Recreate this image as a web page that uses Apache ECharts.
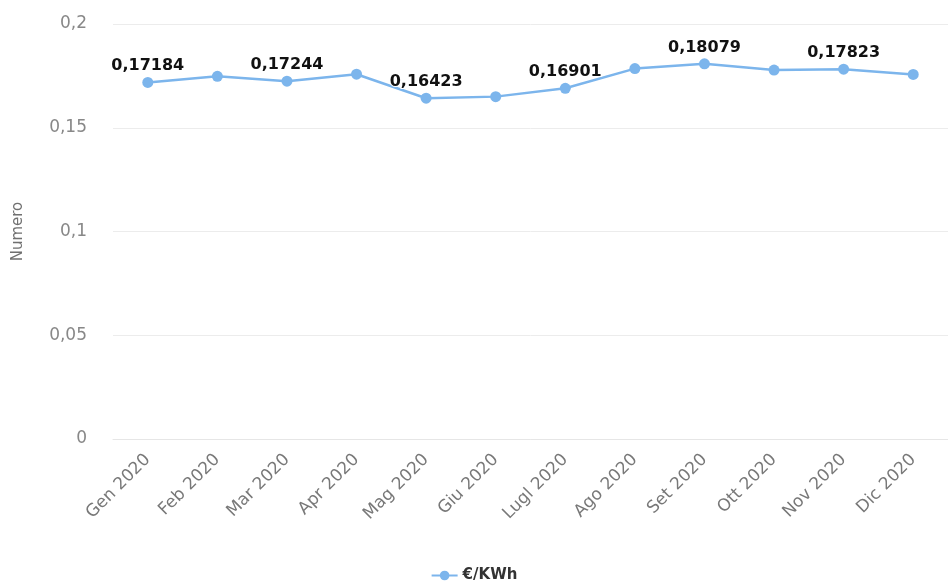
<!DOCTYPE html>
<html>
<head>
<meta charset="utf-8">
<title>€/KWh 2020</title>
<script src="https://cdn.jsdelivr.net/npm/echarts@6/dist/echarts.min.js"></script>
<style>
  html, body { margin: 0; padding: 0; background: #fff; }
  #chart { width: 948px; height: 583px; }
</style>
</head>
<body>
<div id="chart"></div>
<script>
// Monthly energy price, 2020
const months = ['Gen 2020', 'Feb 2020', 'Mar 2020', 'Apr 2020', 'Mag 2020', 'Giu 2020',
                'Lugl 2020', 'Ago 2020', 'Set 2020', 'Ott 2020', 'Nov 2020', 'Dic 2020'];
const pricePerKWh = [0.17184, 0.1748, 0.17244, 0.1758, 0.16423, 0.1650,
                     0.16901, 0.1785, 0.18079, 0.1778, 0.17823, 0.1757];
// months whose value is printed above the point
const labelledMonths = [0, 2, 4, 6, 8, 10];
const yTicks = { min: 0, max: 0.2, interval: 0.05 };

const itFormat = v => String(+v.toFixed(5)).replace('.', ',');

const lineColor = '#7cb5ec';

const chart = echarts.init(document.getElementById('chart'), null, { renderer: 'canvas' });

chart.setOption({
  animation: false,
  backgroundColor: '#fff',
  textStyle: { fontFamily: 'DejaVu Sans' },
  grid: { left: 113, top: 24, width: 842, height: 415, containLabel: false },
  legend: {
    top: 563,
    left: 'center',
    itemWidth: 26,
    itemHeight: 12,
    itemGap: 8,
    textStyle: { fontFamily: 'DejaVu Sans', fontWeight: 'bold', fontSize: 15, color: '#333' },
    data: ['€/KWh']
  },
  xAxis: {
    type: 'category',
    data: months,
    boundaryGap: true,
    axisLine: { lineStyle: { color: '#e6e6e6', width: 1 } },
    axisTick: { alignWithLabel: true, length: 13, lineStyle: { color: '#e0e0e0' } },
    axisLabel: {
      interval: 0,
      rotate: 45,
      margin: 18,
      fontSize: 17,
      color: '#787878',
      fontFamily: 'DejaVu Sans'
    },
    splitLine: { show: false }
  },
  yAxis: {
    type: 'value',
    min: yTicks.min,
    max: yTicks.max,
    interval: yTicks.interval,
    name: 'Numero',
    nameLocation: 'middle',
    nameGap: 87,
    nameTextStyle: { fontSize: 15, color: '#707070', fontFamily: 'DejaVu Sans' },
    axisLine: { show: false },
    axisTick: { show: false },
    axisLabel: {
      margin: 26,
      fontSize: 17,
      color: '#888',
      fontFamily: 'DejaVu Sans',
      formatter: itFormat
    },
    splitLine: { lineStyle: { color: '#ececec', width: 1 } }
  },
  series: [{
    name: '€/KWh',
    type: 'line',
    data: pricePerKWh.map((v, i) => ({
      value: v,
      label: { show: labelledMonths.includes(i) }
    })),
    symbol: 'circle',
    symbolSize: 11,
    lineStyle: { color: lineColor, width: 2.5 },
    itemStyle: { color: lineColor },
    label: {
      position: 'top',
      distance: 3,
      fontFamily: 'DejaVu Sans',
      fontWeight: 'bold',
      fontSize: 16,
      color: '#111',
      textBorderColor: '#fff',
      textBorderWidth: 2,
      formatter: p => itFormat(p.value)
    }
  }]
});
</script>
</body>
</html>
